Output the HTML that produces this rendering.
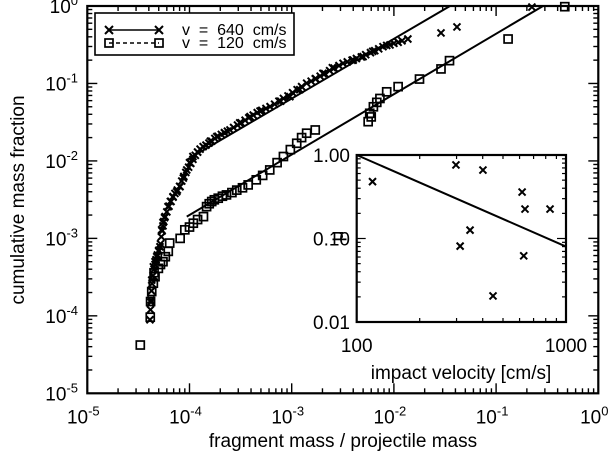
<!DOCTYPE html>
<html><head><meta charset="utf-8"><style>
body{margin:0;background:#fff}
svg{display:block;font-family:"Liberation Sans",sans-serif}
</style></head><body>
<svg id="c" width="615" height="457" viewBox="0 0 615 457"></svg>
<script>
const fastX=[4.1e-5,4.27e-5,4.43e-5,4.78e-5,5.14e-5,5.34e-5,5.76e-5,6.16e-5,6.9e-5,8.08e-5,9.4e-5,1.08e-4,1.36e-4,1.85e-4,2.49e-4,3.91e-4,6.14e-4,9.6e-4,1.4e-3,2.02e-3,3.18e-3,4.99e-3,7.82e-3,9.16e-3,1.37e-2,2.89e-2,4.14e-2,0.224,
4.2e-5,4.6e-5,5.0e-5,5.5e-5,6.5e-5,7.5e-5,8.7e-5,1.0e-4,1.2e-4,1.6e-4,2.2e-4,3.1e-4,4.9e-4,7.8e-4,1.2e-3,1.7e-3,2.5e-3,4.0e-3,6.2e-3,1.1e-2,
4.15e-5,4.2e-5,4.25e-5,4.3e-5,4.4e-5,4.5e-5,4.6e-5,4.7e-5,4.85e-5,5.0e-5,5.2e-5,5.3e-5,5.4e-5,5.5e-5,5.6e-5,5.7e-5,
6.0e-5,6.3e-5,6.6e-5,6.9e-5,7.2e-5,7.6e-5,8.0e-5,8.4e-5,8.8e-5,9.2e-5,
9.8e-5,1.03e-4,1.08e-4,1.14e-4,1.2e-4,1.27e-4,
1.45e-4,1.55e-4,1.65e-4,1.77e-4,1.9e-4,2.05e-4,2.2e-4,2.35e-4,
2.7e-4,2.95e-4,3.2e-4,3.5e-4,3.8e-4,4.2e-4,4.6e-4,5.1e-4,5.6e-4,
6.8e-4,7.5e-4,8.3e-4,9.2e-4,1.02e-3,1.13e-3,1.25e-3,
1.55e-3,1.72e-3,1.9e-3,2.1e-3,2.35e-3,2.6e-3,2.9e-3,
3.5e-3,3.9e-3,4.3e-3,4.8e-3,5.3e-3,5.9e-3,6.5e-3,7.1e-3,8.5e-3,1.0e-2,1.2e-2];
const fastY=[8.9e-5,2.9e-4,4.3e-4,5.8e-4,7.8e-4,1.29e-3,1.91e-3,2.57e-3,3.46e-3,4.66e-3,7.65e-3,1.14e-2,1.53e-2,2.06e-2,2.51e-2,3.73e-2,5.02e-2,6.76e-2,0.1007,0.135,0.182,0.222,0.298,0.314,0.375,0.449,0.536,0.97,
1.5e-4,5.0e-4,6.8e-4,1.6e-3,3.0e-3,4.0e-3,6.0e-3,9.5e-3,1.3e-2,1.8e-2,2.3e-2,3.1e-2,4.4e-2,5.9e-2,8.3e-2,0.115,0.16,0.2,0.26,0.34,
1.2e-4,1.6e-4,2.1e-4,2.6e-4,3.3e-4,4.0e-4,4.6e-4,5.3e-4,6.1e-4,7.0e-4,8.5e-4,1.05e-3,1.25e-3,1.45e-3,1.65e-3,1.85e-3,
2.2e-3,2.6e-3,3.0e-3,3.4e-3,3.8e-3,4.2e-3,4.7e-3,5.5e-3,6.3e-3,7.1e-3,
8.3e-3,9.3e-3,1.05e-2,1.18e-2,1.3e-2,1.42e-2,
1.6e-2,1.7e-2,1.8e-2,1.95e-2,2.08e-2,2.2e-2,2.32e-2,2.42e-2,
2.7e-2,2.9e-2,3.1e-2,3.35e-2,3.6e-2,3.9e-2,4.2e-2,4.5e-2,4.75e-2,
5.4e-2,5.9e-2,6.4e-2,6.9e-2,7.6e-2,8.3e-2,9.1e-2,
0.107,0.115,0.124,0.134,0.146,0.158,0.17,
0.19,0.2,0.21,0.22,0.235,0.25,0.265,0.28,0.31,0.33,0.355];
const slowX=[3.3e-5,4.13e-5,4.16e-5,4.27e-5,4.43e-5,4.6e-5,4.96e-5,5.5e-5,6.2e-5,6.4e-5,8.1e-5,9.0e-5,1.09e-4,1.37e-4,1.47e-4,1.65e-4,1.91e-4,2.3e-4,2.9e-4,3.75e-4,4.5e-4,6.1e-4,8.3e-4,1.12e-3,1.4e-3,1.7e-3,5.6e-3,5.8e-3,6.3e-3,7.3e-3,8.5e-3,1.1e-2,1.78e-2,2.89e-2,3.5e-2,0.131,0.47,
4.5e-5,5.2e-5,5.8e-5,1.0e-4,1.2e-4,1.56e-4,1.75e-4,2.1e-4,2.6e-4,3.3e-4,5.2e-4,7.2e-4,9.7e-4,1.25e-3,6.0e-3,6.8e-3];
const slowY=[4.2e-5,9.6e-5,1.53e-4,2.06e-4,2.64e-4,3.2e-4,4.1e-4,5.0e-4,6.8e-4,8.7e-4,1.0e-3,1.29e-3,1.57e-3,1.91e-3,2.57e-3,2.99e-3,3.3e-3,3.64e-3,4.2e-3,4.9e-3,5.7e-3,7.65e-3,1.14e-2,1.69e-2,2.28e-2,2.51e-2,3.21e-2,4.12e-2,5.0e-2,6.4e-2,7.8e-2,9.1e-2,0.114,0.154,0.197,0.375,0.98,
3.6e-4,4.6e-4,5.8e-4,1.4e-3,1.75e-3,2.8e-3,3.15e-3,3.5e-3,3.9e-3,4.5e-3,6.5e-3,9.5e-3,1.4e-2,2.0e-2,3.7e-2,5.7e-2];
const fastFitX=[9.4e-5,0.0354], fastFitY=[0.0103,1.0];
const slowFitX=[9.4e-5,0.288], slowFitY=[1.91e-3,1.0];
const velX=[119,298,401,617,637,839,348,312,628,448];
const muY=[0.48,0.76,0.66,0.36,0.225,0.225,0.126,0.081,0.062,0.0205];
const muFitX=[100,1000], muFitY=[1.0,0.08];
const mainTickLabels=["-5","-4","-3","-2","-1","0"];
const insetYLabels=["0.01","0.10","1.00"];
const insetXLabels=["100","1000"];

const NS="http://www.w3.org/2000/svg", svg=document.getElementById('c');
function mk(t,a,p){const e=document.createElementNS(NS,t);for(const k in a)e.setAttribute(k,a[k]);(p||svg).appendChild(e);return e;}
const L=87.3,R=598.3,T=6,B=393.3, Lg=Math.log10;
const X=v=>L+(Lg(v)+5)*(R-L)/5, Y=v=>B-(Lg(v)+5)*(B-T)/5;
const iL=356.7,iR=566,iT=155,iB=322;
const IX=v=>iL+(Lg(v)-2)*(iR-iL), IY=v=>iB-(Lg(v)+2)*(iB-iT)/2;
function cross(x,y,s,g){return mk('path',{d:`M${x-s} ${y-s}L${x+s} ${y+s}M${x-s} ${y+s}L${x+s} ${y-s}`,stroke:'#000','stroke-width':2,fill:'none'},g);}
function sq(x,y,s,g){return mk('rect',{x:x-s,y:y-s,width:2*s,height:2*s,fill:'none',stroke:'#000','stroke-width':1.7},g);}

const tk=mk('g',{});
for(let d=-5;d<0;d++)for(let m=1;m<10;m++){const v=m*Math.pow(10,d);const len=m==1?10:5;
 const x=X(v),y=Y(v);
 mk('line',{x1:x,x2:x,y1:B,y2:B-len,stroke:'#000','stroke-width':1.4},tk);
 mk('line',{x1:x,x2:x,y1:T,y2:T+len,stroke:'#000','stroke-width':1.4},tk);
 mk('line',{x1:L,x2:L+len,y1:y,y2:y,stroke:'#000','stroke-width':1.4},tk);
 mk('line',{x1:R,x2:R-len,y1:y,y2:y,stroke:'#000','stroke-width':1.4},tk);}
const fr=mk('rect',{x:L,y:T,width:R-L,height:B-T,fill:'none',stroke:'#000','stroke-width':2.2});


mainTickLabels.forEach((s,i)=>{const v=Math.pow(10,+s);
 const t=mk('text',{x:X(v)-4,y:B+30,'font-size':19,'text-anchor':'middle'});t.innerHTML=`10<tspan dy="-8" font-size="13">${s}</tspan>`;
 
 const u=mk('text',{x:78,y:Y(v)+7,'font-size':19,'text-anchor':'end'});u.innerHTML=`10<tspan dy="-8" font-size="13">${s}</tspan>`;
 });
const xt=mk('text',{x:343,y:447,'font-size':19,'text-anchor':'middle'});xt.textContent='fragment mass / projectile mass';

const yt=mk('text',{x:0,y:0,'font-size':19,'text-anchor':'middle',transform:'translate(24,200) rotate(-90)'});yt.textContent='cumulative mass fraction';


const gf=mk('g',{});
fastX.forEach((v,i)=>{const c=cross(X(v),Y(fastY[i]),3.5,gf);});
const lf=mk('line',{x1:X(fastFitX[0]),y1:Y(fastFitY[0]),x2:X(fastFitX[1]),y2:Y(fastFitY[1]),stroke:'#000','stroke-width':2});

const gs=mk('g',{});
slowX.forEach((v,i)=>{const c=sq(X(v),Y(slowY[i]),4,gs);});
const ls=mk('line',{x1:X(slowFitX[0]),y1:Y(slowFitY[0]),x2:X(slowFitX[1]),y2:Y(slowFitY[1]),stroke:'#000','stroke-width':2});


const lg=mk('g',{});
mk('rect',{x:95,y:13,width:199,height:42,fill:'#fff',stroke:'#000','stroke-width':1.6},lg);
mk('line',{x1:109,x2:159,y1:30,y2:30,stroke:'#000','stroke-width':1.6},lg);cross(109,30,4,lg);cross(159,30,4,lg);
mk('line',{x1:109,x2:159,y1:43,y2:43,stroke:'#000','stroke-width':1.6,'stroke-dasharray':'4 3'},lg);sq(109,43,4,lg);sq(159,43,4,lg);
const l1=mk('text',{x:182,y:35,'font-size':16,'xml:space':'preserve'},lg);l1.textContent='v  =  640  cm/s';

const l2=mk('text',{x:182,y:48,'font-size':16},lg);l2.textContent='v  =  120  cm/s';

l1.setAttribute('style','white-space:pre');l2.setAttribute('style','white-space:pre');

const ig=mk('g',{});
mk('rect',{x:iL,y:iT,width:iR-iL,height:iB-iT,fill:'#fff',stroke:'none'},ig);
for(let d=-2;d<0;d++)for(let m=1;m<10;m++){const y=IY(m*Math.pow(10,d));const len=m==1?9:4;
 mk('line',{x1:iL,x2:iL+len,y1:y,y2:y,stroke:'#000','stroke-width':1.2},ig);mk('line',{x1:iR,x2:iR-len,y1:y,y2:y,stroke:'#000','stroke-width':1.2},ig);}
for(let m=1;m<=10;m++){const x=IX(m*100);const len=(m==1||m==10)?9:4;
 mk('line',{x1:x,x2:x,y1:iB,y2:iB-len,stroke:'#000','stroke-width':1.2},ig);mk('line',{x1:x,x2:x,y1:iT,y2:iT+len,stroke:'#000','stroke-width':1.2},ig);}
mk('rect',{x:iL,y:iT,width:iR-iL,height:iB-iT,fill:'none',stroke:'#000','stroke-width':2.2},ig);
insetYLabels.forEach(s=>{const t=mk('text',{x:350,y:IY(+s)+7,'font-size':19,'text-anchor':'end'},ig);t.textContent=s;
 });
insetXLabels.forEach(s=>{const t=mk('text',{x:IX(+s),y:352,'font-size':19,'text-anchor':'middle'},ig);t.textContent=s;
 });
const ixt=mk('text',{x:461,y:379,'font-size':19,'text-anchor':'middle'},ig);ixt.textContent='impact velocity [cm/s]';

const iyt=mk('text',{x:0,y:0,'font-size':19,'text-anchor':'middle',transform:'translate(343,236) rotate(-90)'},ig);iyt.textContent='μ';

velX.forEach((v,i)=>{const c=cross(IX(v),IY(muY[i]),3.5,ig);});
const il=mk('line',{x1:IX(muFitX[0]),y1:IY(muFitY[0]),x2:IX(muFitX[1]),y2:IY(muFitY[1]),stroke:'#000','stroke-width':2},ig);

</script>
</body></html>
